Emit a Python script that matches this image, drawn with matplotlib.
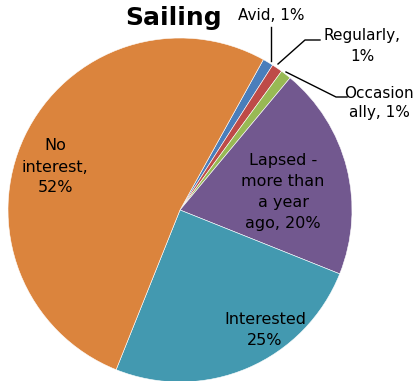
import numpy as np
import matplotlib.pyplot as plt

# data
labels = ["Avid, 1%", "Regularly,\n1%", "Occasion\nally, 1%", "Lapsed -\nmore than\na year\nago, 20%",
          "Interested\n25%", "No\ninterest,\n52%"]
values = [1, 1, 1, 20, 25, 52]
colors = ["#4A7EBB", "#BE4B48", "#98B954", "#72588F", "#4399B0", "#DB843D"]

plt.rcParams['font.family'] = ['DejaVu Sans']

W, H = 415, 381
fig = plt.figure(figsize=(W / 100, H / 100), dpi=100)
ax = fig.add_axes([0, 0, 1, 1])

# pixel coords, y measured from top
cx, cy, r = 180, 210, 172
ax.pie(values, colors=colors, startangle=61, counterclock=False,
       center=(cx, H - cy), radius=r,
       wedgeprops=dict(edgecolor='white', linewidth=0.4))
ax.set_xlim(0, W)
ax.set_ylim(0, H)
ax.axis('off')

def px(x, y):
    return x, H - y

ax.text(*px(174, 18), "Sailing", fontsize=18, fontweight='bold', ha='center', va='center')

fs = 11.5
ls = 1.5
ax.text(*px(55, 167), labels[5], fontsize=fs, ha='center', va='center', linespacing=ls)
ax.text(*px(283, 192), labels[3], fontsize=fs, ha='center', va='center', linespacing=ls)
ax.text(*px(265, 330), labels[4], fontsize=fs, ha='center', va='center', linespacing=ls)
fo = 11
ax.text(*px(271, 16), labels[0], fontsize=fo, ha='center', va='center')
ax.text(*px(362, 46), labels[1], fontsize=fo, ha='center', va='center', linespacing=ls)
ax.text(*px(379, 103), labels[2], fontsize=fo, ha='center', va='center', linespacing=1.35)

# leader lines
ax.plot(*zip(px(271, 61), px(271, 27)), color='black', lw=1)
ax.plot(*zip(px(278, 64), px(305, 40), px(320, 40)), color='black', lw=1)
ax.plot(*zip(px(286, 72), px(336, 97), px(347, 97)), color='black', lw=1)

plt.savefig("out.png", dpi=100)
